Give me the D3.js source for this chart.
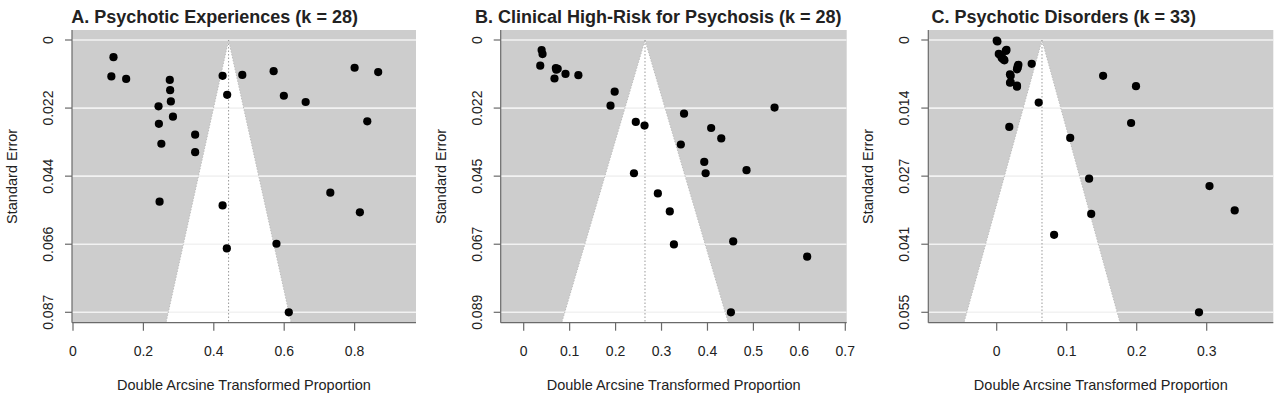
<!DOCTYPE html>
<html>
<head>
<meta charset="utf-8">
<script src="https://cdn.jsdelivr.net/npm/d3@7"></script>
<style>
  html, body { margin: 0; padding: 0; background: #fff; }
  svg { display: block; }
  text { font-family: "Liberation Sans", Arial, Helvetica, sans-serif; fill: #222; }
</style>
</head>
<body>
<svg id="chart" width="1280" height="397"></svg>
<script>
// ---------------- DATA ----------------
const panelTitles = [
  "A. Psychotic Experiences (k = 28)",
  "B. Clinical High-Risk for Psychosis (k = 28)",
  "C. Psychotic Disorders (k = 33)"
];
const xAxisTitle = "Double Arcsine Transformed Proportion";
const yAxisTitle = "Standard Error";

// Panel A: Psychotic Experiences
const peX  = [0.115, 0.109, 0.151, 0.243, 0.244, 0.251, 0.275, 0.276, 0.278, 0.284,
              0.347, 0.347, 0.425, 0.438, 0.481, 0.570, 0.599, 0.661, 0.800, 0.867,
              0.836, 0.731, 0.246, 0.425, 0.815, 0.437, 0.578, 0.613];
const peSE = [0.0055, 0.0117, 0.0125, 0.0213, 0.0269, 0.0333, 0.0128, 0.0161, 0.0197, 0.0246,
              0.0304, 0.0360, 0.0115, 0.0176, 0.0112, 0.0100, 0.0179, 0.0199, 0.0089, 0.0103,
              0.0261, 0.0490, 0.0519, 0.0531, 0.0553, 0.0669, 0.0654, 0.0874];
const peEst = 0.442;
const peMaxSE = 0.0874;
const peXTicks = [0, 0.2, 0.4, 0.6, 0.8];
const peXLabels = ["0", "0.2", "0.4", "0.6", "0.8"];
const peYLabels = ["0", "0.022", "0.044", "0.066", "0.087"];

// Panel B: Clinical High-Risk for Psychosis
const chrX  = [0.039, 0.041, 0.036, 0.070, 0.074, 0.067, 0.091, 0.119, 0.198, 0.189,
               0.244, 0.263, 0.240, 0.292, 0.349, 0.408, 0.430, 0.342, 0.393, 0.396,
               0.485, 0.546, 0.318, 0.327, 0.456, 0.617, 0.451, 0.071];
const chrSE = [0.0033, 0.0046, 0.0084, 0.0092, 0.0094, 0.0126, 0.0111, 0.0115, 0.0169, 0.0215,
               0.0268, 0.0280, 0.0436, 0.0502, 0.0241, 0.0288, 0.0322, 0.0342, 0.0399, 0.0436,
               0.0426, 0.0221, 0.0561, 0.0669, 0.0659, 0.0709, 0.0891, 0.0097];
const chrEst = 0.264;
const chrMaxSE = 0.0891;
const chrXTicks = [0, 0.1, 0.2, 0.3, 0.4, 0.5, 0.6, 0.7];
const chrXLabels = ["0", "0.1", "0.2", "0.3", "0.4", "0.5", "0.6", "0.7"];
const chrYLabels = ["0", "0.022", "0.045", "0.067", "0.089"];

// Panel C: Psychotic Disorders
const pdX  = [0.000, 0.003, 0.014, 0.007, 0.010, 0.031, 0.029, 0.019, 0.019, 0.029,
              0.050, 0.060, 0.018, 0.105, 0.152, 0.199, 0.192, 0.132, 0.304, 0.340,
              0.135, 0.082, 0.289, 0.005, 0.008, 0.011, 0.030, 0.030, 0.020, 0.020,
              0.029, 0.013, 0.001];
const pdSE = [0.0001, 0.0028, 0.0020, 0.0035, 0.0039, 0.0050, 0.0059, 0.0069, 0.0086, 0.0094,
              0.0048, 0.0126, 0.0175, 0.0197, 0.0072, 0.0093, 0.0167, 0.0279, 0.0294, 0.0343,
              0.0350, 0.0392, 0.0548, 0.0030, 0.0037, 0.0041, 0.0053, 0.0056, 0.0072, 0.0085,
              0.0092, 0.0022, 0.0003];
const pdEst = 0.0647;
const pdMaxSE = 0.0548;
const pdXTicks = [0, 0.1, 0.2, 0.3];
const pdXLabels = ["0", "0.1", "0.2", "0.3"];
const pdYLabels = ["0", "0.014", "0.027", "0.041", "0.055"];

// ---------------- LAYOUT ----------------
const panels = [
  { title: panelTitles[0], xs: peX, ses: peSE, est: peEst, maxSE: peMaxSE,
    xTicks: peXTicks, xLabels: peXLabels, yLabels: peYLabels,
    left: 72, right: 416, x0px: 73, x1px: 354.6, titleX: 214.6 },
  { title: panelTitles[1], xs: chrX, ses: chrSE, est: chrEst, maxSE: chrMaxSE,
    xTicks: chrXTicks, xLabels: chrXLabels, yLabels: chrYLabels,
    left: 500.7, right: 846.7, x0px: 523.7, x1px: 845.3, titleX: 658.3 },
  { title: panelTitles[2], xs: pdX, ses: pdSE, est: pdEst, maxSE: pdMaxSE,
    xTicks: pdXTicks, xLabels: pdXLabels, yLabels: pdYLabels,
    left: 928.3, right: 1273.3, x0px: 996.7, x1px: 1206.7, titleX: 1063.8 }
];
const plotTop = 30, plotBottom = 322.7, yTop = 40, yBot = 312.3;

const svg = d3.select("#chart");
const defs = svg.append("defs");

panels.forEach((p, i) => {
  const xFirst = p.xTicks[0], xLast = p.xTicks[p.xTicks.length - 1];
  const x = d3.scaleLinear().domain([xFirst, xLast]).range([p.x0px, p.x1px]);
  const y = d3.scaleLinear().domain([0, p.maxSE]).range([yTop, yBot]);
  const yTicks = d3.range(5).map(k => p.maxSE * k / 4);

  const g = svg.append("g");

  defs.append("clipPath").attr("id", "clip" + i)
    .append("rect").attr("x", p.left).attr("y", plotTop)
    .attr("width", p.right - p.left).attr("height", plotBottom - plotTop);

  // gray background
  g.append("rect").attr("x", p.left).attr("y", plotTop)
    .attr("width", p.right - p.left).attr("height", plotBottom - plotTop)
    .attr("fill", "#cdcdcd");

  const inner = g.append("g").attr("clip-path", `url(#clip${i})`);

  // funnel (white)
  const seBot = y.invert(plotBottom + 2);
  const funnel = [[p.est - 1.96 * seBot, seBot], [p.est, 0], [p.est + 1.96 * seBot, seBot]];
  inner.append("path")
    .attr("d", d3.line().x(d => x(d[0])).y(d => y(d[1]))(funnel) + "Z")
    .attr("fill", "#ffffff");

  // horizontal white lines
  inner.selectAll("line.h").data(yTicks).join("line")
    .attr("x1", p.left).attr("x2", p.right)
    .attr("y1", d => y(d)).attr("y2", d => y(d))
    .attr("stroke", "#f2f2f2").attr("stroke-width", 1.6);

  // funnel edges (dotted)
  inner.append("path")
    .attr("d", d3.line().x(d => x(d[0])).y(d => y(d[1]))(funnel))
    .attr("fill", "none").attr("stroke", "#bdbdbd").attr("stroke-width", 1)
    .attr("stroke-dasharray", "1.5,1.5");

  // center dotted line
  inner.append("line")
    .attr("x1", x(p.est)).attr("x2", x(p.est))
    .attr("y1", y(0)).attr("y2", plotBottom)
    .attr("stroke", "#9a9a9a").attr("stroke-width", 1)
    .attr("stroke-dasharray", "1.5,2");

  // points
  inner.selectAll("circle").data(p.xs.map((v, k) => [v, p.ses[k]])).join("circle")
    .attr("cx", d => x(d[0])).attr("cy", d => y(d[1]))
    .attr("r", 4.1).attr("fill", "#000");

  // axes lines (L-shape)
  g.append("line").attr("x1", p.left).attr("x2", p.left)
    .attr("y1", plotTop).attr("y2", plotBottom).attr("stroke", "#6a6a6a").attr("stroke-width", 1.2);
  g.append("line").attr("x1", p.left).attr("x2", p.right)
    .attr("y1", plotBottom).attr("y2", plotBottom).attr("stroke", "#6a6a6a").attr("stroke-width", 1.2);

  // y ticks + labels
  yTicks.forEach((t, k) => {
    g.append("line").attr("x1", p.left - 7).attr("x2", p.left)
      .attr("y1", y(t)).attr("y2", y(t)).attr("stroke", "#6a6a6a").attr("stroke-width", 1.2);
    g.append("text")
      .attr("transform", `translate(${p.left - 19},${y(t)}) rotate(-90)`)
      .attr("text-anchor", "middle")
      .attr("font-size", 14)
      .attr("fill", "#333")
      .text(p.yLabels[k]);
  });

  // x ticks + labels
  p.xTicks.forEach((t, k) => {
    g.append("line").attr("x1", x(t)).attr("x2", x(t))
      .attr("y1", plotBottom).attr("y2", plotBottom + 8).attr("stroke", "#6a6a6a").attr("stroke-width", 1.2);
    g.append("text")
      .attr("x", x(t)).attr("y", 355.5)
      .attr("text-anchor", "middle")
      .attr("font-size", 14)
      .attr("fill", "#333")
      .text(p.xLabels[k]);
  });

  // axis titles
  g.append("text")
    .attr("x", (p.left + p.right) / 2).attr("y", 390)
    .attr("text-anchor", "middle").attr("font-size", 14.5).attr("fill", "#333")
    .text(xAxisTitle);
  g.append("text")
    .attr("transform", `translate(${p.left - 55},${(plotTop + plotBottom) / 2}) rotate(-90)`)
    .attr("text-anchor", "middle").attr("font-size", 14.5).attr("fill", "#333")
    .text(yAxisTitle);

  // title
  g.append("text")
    .attr("x", p.titleX).attr("y", 22.5)
    .attr("text-anchor", "middle").attr("font-size", 18).attr("font-weight", "bold")
    .attr("fill", "#111")
    .text(p.title);
});
</script>
</body>
</html>
